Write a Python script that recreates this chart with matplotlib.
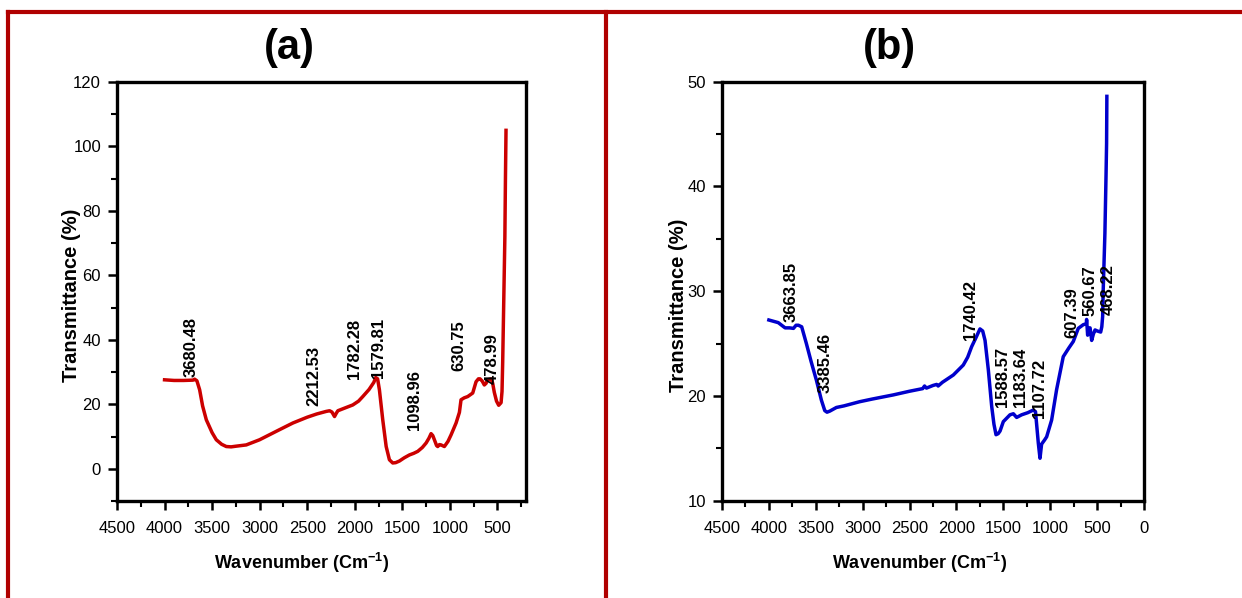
import matplotlib
matplotlib.use("Agg")
import matplotlib.pyplot as plt
from matplotlib import font_manager
from matplotlib.ticker import MultipleLocator
from matplotlib.lines import Line2D

# ---------------- data ----------------
wn_a = [4000, 3900, 3800, 3700, 3684, 3660, 3631, 3600, 3561, 3500, 3456, 3400, 3351, 3300,
        3250, 3141, 3001, 2800, 2651, 2500, 2400, 2300, 2265, 2240, 2213, 2195, 2178, 2100,
        2021, 1960, 1916, 1850, 1800, 1780, 1760, 1741, 1706, 1670, 1636, 1601, 1570, 1531,
        1480, 1425, 1380, 1338, 1290, 1250, 1220, 1198, 1180, 1163, 1140, 1128, 1110, 1093,
        1058, 1020, 988, 935, 900, 883, 850, 813, 760, 725, 700, 683, 660, 638, 620, 603,
        567, 550, 533, 510, 487, 462, 452, 445, 432, 422, 416, 410]
t_a = [27.6, 27.4, 27.4, 27.5, 27.8, 27.3, 24.5, 19.5, 15.2, 11.2, 9.0, 7.6, 6.9, 6.8,
       7.0, 7.4, 9.0, 12.0, 14.2, 16.0, 17.0, 17.8, 18.0, 17.6, 16.2, 17.2, 18.0, 18.9,
       19.8, 21.0, 22.4, 24.6, 26.8, 28.3, 27.9, 24.5, 15.2, 6.9, 2.8, 1.8, 1.9, 2.4,
       3.4, 4.3, 4.8, 5.4, 6.6, 8.0, 9.5, 10.9, 10.3, 9.0, 7.2, 6.9, 7.5, 7.4,
       6.9, 8.5, 10.5, 14.2, 17.5, 21.4, 22.0, 22.4, 23.5, 27.0, 27.9, 27.9, 27.2, 26.0,
       26.5, 27.6, 27.9, 26.5, 23.7, 21.0, 19.7, 20.5, 24.0, 33.0, 55.0, 72.0, 90.0, 105.0]

wn_b = [4000, 3900, 3827, 3780, 3738, 3710, 3685, 3650, 3600, 3550, 3493, 3440, 3404, 3380,
        3351, 3280, 3200, 3032, 2900, 2673, 2500, 2360, 2340, 2320, 2250, 2211, 2195, 2150,
        2033, 1927, 1880, 1838, 1790, 1749, 1720, 1695, 1660, 1624, 1600, 1578, 1555, 1535,
        1500, 1429, 1393, 1358, 1305, 1240, 1181, 1157, 1140, 1127, 1109, 1092, 1060, 1038,
        985, 932, 861, 800, 754, 701, 648, 615, 612, 601, 590, 575, 558, 540, 522, 498,
        462, 450, 441, 435, 417, 405, 399, 396]
t_b = [27.25, 27.0, 26.5, 26.5, 26.45, 26.75, 26.75, 26.6, 25.0, 23.3, 21.5, 19.6, 18.6, 18.45,
       18.55, 18.9, 19.05, 19.45, 19.7, 20.1, 20.45, 20.7, 20.95, 20.75, 21.0, 21.1, 20.95, 21.3,
       22.0, 22.95, 23.7, 24.7, 25.6, 26.4, 26.2, 25.3, 22.5, 19.0, 17.3, 16.3, 16.4, 16.65,
       17.55, 18.2, 18.3, 17.95, 18.2, 18.4, 18.65, 18.5, 16.8, 15.5, 14.05, 15.4, 15.8, 16.1,
       17.7, 20.6, 23.75, 24.6, 25.2, 26.45, 26.8, 26.9, 27.3, 25.8, 26.5, 26.5, 25.3, 25.9,
       26.3, 26.2, 26.1, 26.6, 27.6, 30.1, 35.5, 41.0, 44.1, 48.6]

peaks_a = ["3680.48", "2212.53", "1782.28", "1579.81", "1098.96", "630.75", "478.99"]
peak_x_a = [3719, 2434, 2003, 1748, 1373, 907, 550]
peak_y_a = [28.6, 19.5, 27.8, 28.1, 11.9, 30.2, 26.4]

peaks_b = ["3663.85", "3385.46", "1740.42", "1588.57", "1183.64", "1107.72", "607.39", "560.67", "468.22"]
peak_x_b = [3764, 3402, 1855, 1507, 1315, 1112, 771, 575, 380]
peak_y_b = [27.1, 20.25, 25.3, 18.9, 18.97, 17.87, 25.5, 27.6, 27.7]

# ---------------- fonts ----------------
avail = {f.name for f in font_manager.fontManager.ttflist}
narrow = [f for f in ["Liberation Sans Narrow", "Liberation Sans", "DejaVu Sans"] if f in avail]
regular = [f for f in ["Liberation Sans", "DejaVu Sans"] if f in avail]

fig = plt.figure(figsize=(12.42, 5.98), dpi=100)
fig.patch.set_facecolor("white")

def style_axes(ax, xlim, ylim, ymaj, ymin, xlab_x, ylab_x, ylab_y):
    ax.set_xlim(*xlim)
    ax.set_ylim(*ylim)
    ax.xaxis.set_major_locator(MultipleLocator(500))
    ax.xaxis.set_minor_locator(MultipleLocator(250))
    ax.yaxis.set_major_locator(MultipleLocator(ymaj))
    ax.yaxis.set_minor_locator(MultipleLocator(ymin))
    for s in ax.spines.values():
        s.set_linewidth(2.4)
    ax.tick_params(which="major", direction="out", length=6.5, width=1.8, pad=5,
                   labelsize=12, top=False, right=False)
    ax.tick_params(which="minor", direction="out", length=4.5, width=1.5, top=False, right=False)
    ax.tick_params(axis="x", which="major", pad=8)
    ax.set_ylabel("Transmittance (%)", family=regular, fontweight="bold", fontsize=14.5)
    ax.yaxis.set_label_coords(ylab_x, ylab_y)
    ax.set_xlabel("Wavenumber (Cm$^{\\mathregular{-1}}$)", family=narrow, fontweight="bold",
                  fontsize=13)
    ax.xaxis.label.set_va("center")
    ax.xaxis.set_label_coords(xlab_x, -0.148)

# panel (a)
ax1 = fig.add_axes([0.0942, 0.1622, 0.3293, 0.7007])
ax1.plot(wn_a, t_a, color="#CC0000", lw=2.5)
style_axes(ax1, (4500, 200), (-10, 120), 20, 10, 0.45, -0.088, 0.49)
ax1.set_yticks([0, 20, 40, 60, 80, 100, 120])
for txt, x, y in zip(peaks_a, peak_x_a, peak_y_a):
    ax1.text(x, y, txt, rotation=90, ha="center", va="bottom", fontsize=12,
             fontweight="bold", family=regular)

# panel (b)
ax2 = fig.add_axes([0.5813, 0.1627, 0.3398, 0.7007])
ax2.plot(wn_b, t_b, color="#0000CC", lw=2.5)
style_axes(ax2, (4500, 0), (10, 50), 10, 5, 0.467, -0.08, 0.467)
for txt, x, y in zip(peaks_b, peak_x_b, peak_y_b):
    ax2.text(x, y, txt, rotation=90, ha="center", va="bottom", fontsize=12,
             fontweight="bold", family=regular)

for ax in (ax1, ax2):
    for lab in ax.get_xticklabels() + ax.get_yticklabels():
        lab.set_family(narrow)

# panel titles
fig.text(289 / 1242, 1 - 48 / 598, "(a)", ha="center", va="center", fontsize=30,
         fontweight="bold", family=narrow)
fig.text(889 / 1242, 1 - 48 / 598, "(b)", ha="center", va="center", fontsize=30,
         fontweight="bold", family=narrow)

# red frames
red = "#B00000"
ytop = 1 - 12 / 598
fig.add_artist(Line2D([8 / 1242, 1.0], [ytop, ytop], color=red, lw=3, transform=fig.transFigure))
fig.add_artist(Line2D([8 / 1242, 8 / 1242], [0, ytop], color=red, lw=3, transform=fig.transFigure))
fig.add_artist(Line2D([606 / 1242, 606 / 1242], [0, ytop], color=red, lw=3, transform=fig.transFigure))

fig.savefig("out.png", dpi=100, facecolor="white")
